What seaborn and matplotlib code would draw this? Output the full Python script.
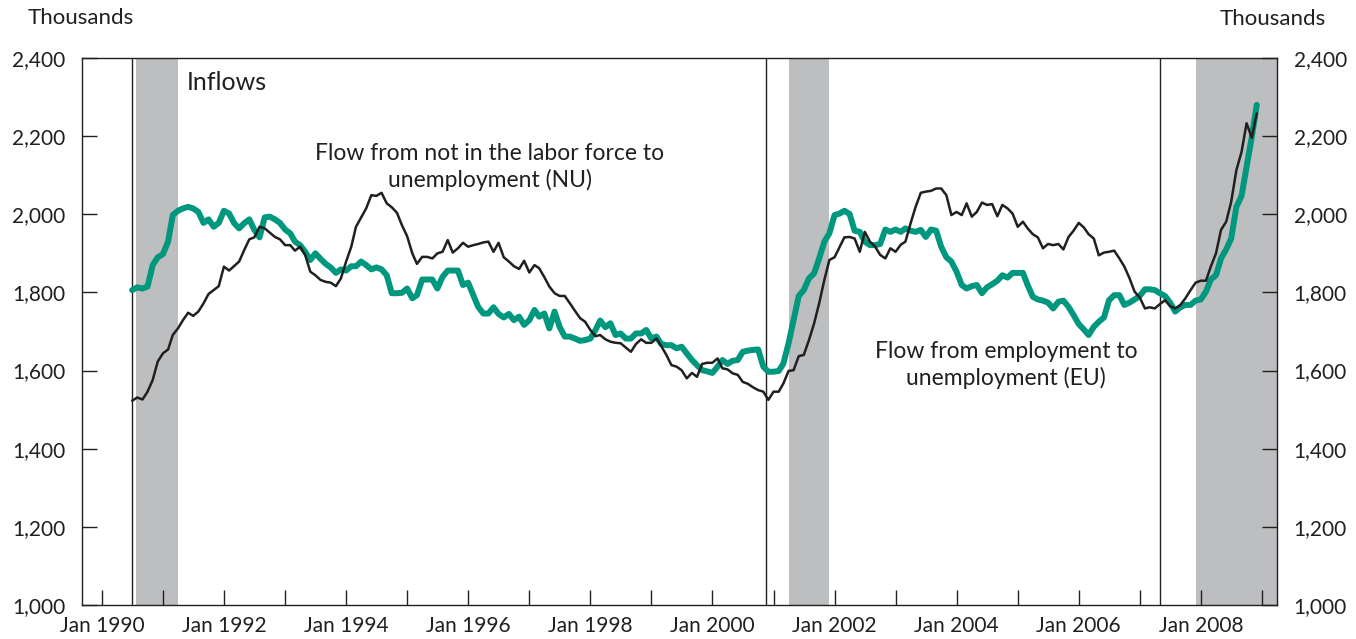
import numpy as np
import pandas as pd
import matplotlib
matplotlib.use("Agg")
import matplotlib.pyplot as plt
import matplotlib.dates as mdates
import seaborn as sns

# monthly inflows into unemployment, thousands (Jul 1990 - Dec 2008)
months = pd.date_range("1990-07-01", "2008-12-01", freq="MS")

eu_flow = [
    1806, 1813, 1810, 1815, 1870, 1890, 1898, 1930, 1998, 2009,
    2015, 2019, 2015, 2006, 1978, 1987, 1968, 1978, 2009, 2002,
    1978, 1964, 1977, 1987, 1960, 1941, 1992, 1994, 1987, 1978,
    1961, 1951, 1930, 1921, 1904, 1883, 1900, 1886, 1873,
    1864, 1850, 1859, 1856, 1867, 1867, 1879, 1870, 1859, 1864,
    1859, 1844, 1798, 1798, 1799, 1810, 1785, 1793, 1833, 1833,
    1833, 1810, 1840, 1856, 1856, 1856, 1819, 1825, 1793, 1763,
    1746, 1746, 1762, 1745, 1736, 1745, 1729, 1738,
    1717, 1729, 1755, 1738, 1746, 1708, 1751, 1712, 1687, 1687,
    1682, 1676, 1678, 1682, 1704, 1728, 1711, 1721, 1691, 1695,
    1682, 1682, 1695, 1695, 1704, 1682, 1687, 1668, 1665, 1665,
    1657, 1661, 1644, 1627, 1614, 1601,
    1598, 1594, 1610, 1627, 1617, 1625, 1627, 1648, 1651, 1653,
    1654, 1610, 1597, 1597, 1599, 1618, 1670, 1729, 1791, 1806,
    1836, 1849, 1887, 1930, 1951, 1998, 2002, 2009, 2001, 1958,
    1955, 1930, 1921, 1921, 1924, 1961, 1955, 1961, 1955,
    1964, 1958, 1955, 1960, 1942, 1961, 1958, 1917, 1890, 1879,
    1853, 1819, 1810, 1816, 1819, 1798, 1813, 1821, 1830, 1844,
    1838, 1850, 1850, 1850, 1819, 1789, 1782, 1779, 1774, 1759,
    1776, 1779, 1763, 1742, 1719, 1705, 1691, 1712,
    1725, 1736, 1780, 1793, 1793, 1768, 1774, 1782, 1791, 1808,
    1808, 1806, 1798, 1791, 1774, 1751, 1762, 1768, 1768, 1779,
    1782, 1802, 1833, 1844, 1887, 1910, 1938, 2019, 2047, 2122,
    2198, 2280,
]

nu_flow = [
    1523, 1531, 1526, 1546, 1576, 1623, 1644, 1654, 1691, 1708,
    1729, 1748, 1740, 1751, 1772, 1796, 1806, 1816, 1866, 1856,
    1867, 1879, 1908, 1936, 1941, 1968, 1964, 1953, 1942, 1936,
    1921, 1921, 1907, 1917, 1896, 1853, 1844, 1832, 1827,
    1825, 1816, 1836, 1879, 1917, 1968, 1992, 2015, 2049, 2047,
    2055, 2028, 2018, 2004, 1972, 1944, 1900, 1873, 1891, 1891,
    1887, 1900, 1904, 1934, 1902, 1913, 1927, 1917, 1921, 1924,
    1928, 1930, 1904, 1927, 1890, 1879, 1867, 1860,
    1881, 1851, 1870, 1862, 1839, 1815, 1798, 1791, 1791, 1772,
    1753, 1734, 1725, 1704, 1688, 1691, 1680, 1674, 1671, 1670,
    1659, 1648, 1668, 1680, 1671, 1671, 1682, 1663, 1640, 1614,
    1610, 1601, 1580, 1594, 1584, 1617,
    1620, 1620, 1631, 1606, 1603, 1593, 1589, 1571, 1566, 1557,
    1550, 1546, 1525, 1546, 1546, 1567, 1599, 1601, 1637, 1640,
    1678, 1721, 1772, 1832, 1883, 1890, 1917, 1941, 1942, 1938,
    1904, 1955, 1930, 1917, 1896, 1887, 1913, 1904, 1922,
    1930, 1977, 2019, 2055, 2058, 2060, 2066, 2066, 2049, 1998,
    2006, 1998, 2028, 1994, 2006, 2030, 2024, 2026, 1995, 2024,
    2015, 2002, 1968, 1981, 1964, 1949, 1941, 1913, 1924, 1921,
    1924, 1910, 1942, 1958, 1978, 1966, 1949, 1938,
    1895, 1902, 1904, 1907, 1887, 1866, 1836, 1802, 1787, 1759,
    1762, 1759, 1770, 1780, 1765, 1759, 1768, 1785, 1806, 1825,
    1830, 1830, 1866, 1900, 1960, 1981, 2032, 2113, 2160, 2233,
    2196, 2258,
]

recessions = [("1990-07-25", "1991-03-31"),
              ("2001-04-01", "2001-11-30"),
              ("2007-12-05", "2009-04-01")]
break_lines = ["1990-07-01", "2000-11-18", "2007-05-03"]

year_ticks = pd.date_range("1990-01-01", "2009-01-01", freq="YS")
tick_labels = ["Jan %d" % d.year if d.year % 2 == 0 else "" for d in year_ticks]
y_ticks = [1000, 1200, 1400, 1600, 1800, 2000, 2200, 2400]

assert len(eu_flow) == len(months), len(eu_flow)
assert len(nu_flow) == len(months), len(nu_flow)

df = pd.DataFrame({"date": months, "EU": eu_flow, "NU": nu_flow})

sns.set_theme(style="white")
plt.rcParams["font.family"] = ["Lato", "DejaVu Sans"]

W, H = 1356, 639
fig = plt.figure(figsize=(W / 100, H / 100), dpi=100)
ax = fig.add_axes([82 / W, 1 - 605 / H, (1277 - 82) / W, (605 - 58) / H])

def px(x, y):
    return x / W, 1 - y / H

dark = "#231F20"
green = "#00977F"

for start, end in recessions:
    ax.axvspan(pd.Timestamp(start), pd.Timestamp(end), color="#BCBEC0", lw=0, zorder=0)
for d in break_lines:
    ax.axvline(pd.Timestamp(d), color=dark, lw=1.0, zorder=1)

sns.lineplot(data=df, x="date", y="EU", ax=ax, color=green, lw=4.3, zorder=3)
sns.lineplot(data=df, x="date", y="NU", ax=ax, color=dark, lw=1.8, zorder=4)

ax.set_xlim(pd.Timestamp("1989-09-04"), pd.Timestamp("2009-04-01"))
ax.set_ylim(1000, 2400)
ax.set_xticks(year_ticks)
ax.set_xticklabels(tick_labels)
ax.set_yticks(y_ticks)
ax.set_yticklabels(["{:,}".format(v) for v in y_ticks])
ax.set_xlabel("")
ax.set_ylabel("")

ax.tick_params(axis="both", direction="in", length=11, width=1, color=dark,
               labelsize=15, labelcolor=dark)
ax.tick_params(axis="y", left=True, right=True, labelleft=True, labelright=True, pad=12)
ax.tick_params(axis="x", bottom=True, pad=8)
for s in ax.spines.values():
    s.set_color(dark)
    s.set_linewidth(1.0)

fig.text(*px(28, 18), "Thousands", fontsize=16, color=dark, va="center", ha="left")
fig.text(*px(1326, 19), "Thousands", fontsize=16, color=dark, va="center", ha="right")
fig.text(*px(187, 83), "Inflows", fontsize=18, color=dark, va="center", ha="left")
fig.text(*px(490, 154), "Flow from not in the labor force to", fontsize=16.5,
         color=dark, va="center", ha="center")
fig.text(*px(490, 180), "unemployment (NU)", fontsize=16.5,
         color=dark, va="center", ha="center")
fig.text(*px(1006, 352), "Flow from employment to", fontsize=16.5,
         color=dark, va="center", ha="center")
fig.text(*px(1006, 378), "unemployment (EU)", fontsize=16.5,
         color=dark, va="center", ha="center")

fig.savefig("out.png", dpi=100)
